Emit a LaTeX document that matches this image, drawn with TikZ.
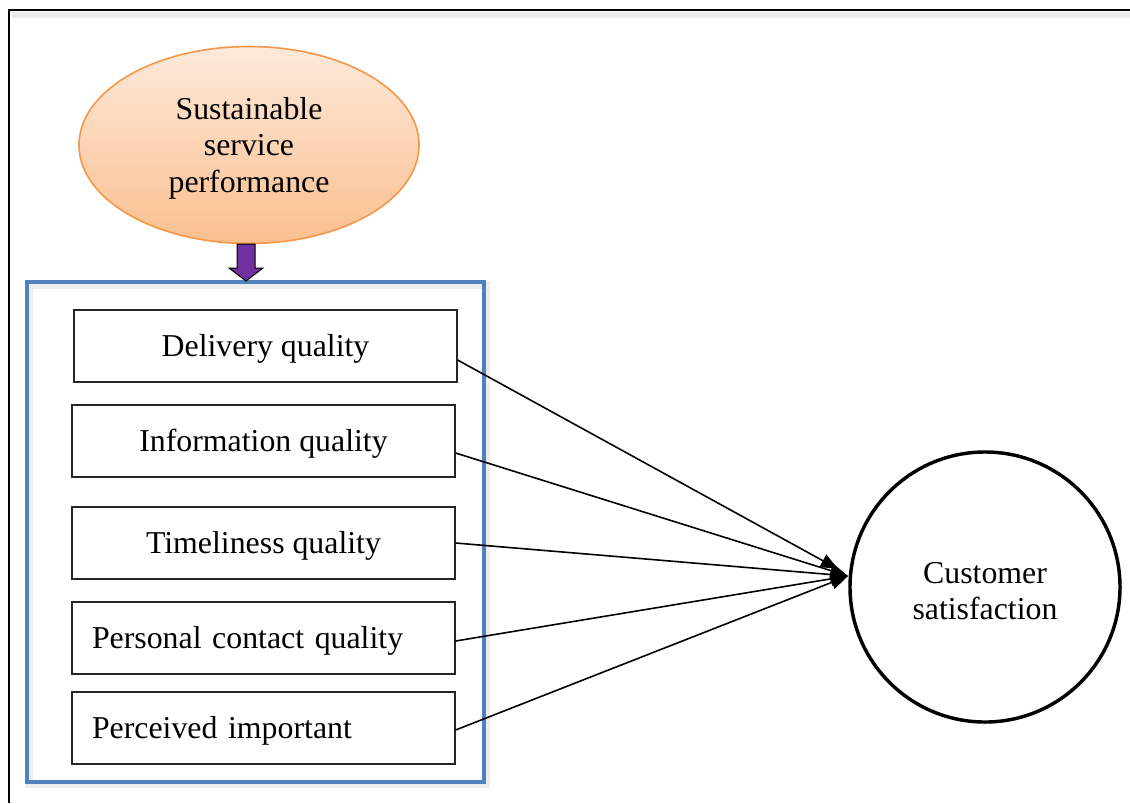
\documentclass[tikz,border=0pt]{standalone}
\usepackage{fontspec}
\setmainfont{Liberation Serif}
\usetikzlibrary{arrows.meta,shapes.geometric,calc}
\newdimen\pxl
\pxl=0.754pt
\definecolor{peachtop}{HTML}{FDE9DA}
\definecolor{peachbot}{HTML}{FABF8F}
\definecolor{peachline}{HTML}{F79646}
\definecolor{frameblue}{HTML}{4F81BD}
\definecolor{arrowpurple}{HTML}{7030A0}
\tikzset{
  lbl/.style={font=\fontsize{24}{27.5}\selectfont},
  qbox/.style={lbl, draw=black!85, line width=0.85pt, minimum width=288.8pt,
    minimum height=54.3pt, inner sep=0pt, text height=18pt, text depth=1.5pt},
  qboxleft/.style={qbox, text width=258.6pt, align=left},
  link/.style={line width=1.2pt, -{Triangle[length=13pt,width=10.5pt]}},
}
\begin{document}
\begin{tikzpicture}[x=\pxl,y=-\pxl]
\useasboundingbox (0,0) rectangle (1130,803);
\fill[white] (0,0) rectangle (1130,803);

% outer page frame
\draw[black!8, line width=4.5pt] (12,15) -- (1130,15);
\draw[line width=1.5pt] (9,803) -- (9,10) -- (1130,10);

% source construct
\node[ellipse, draw=peachline, line width=1.2pt, top color=peachtop,
  bottom color=peachbot, minimum width=256.4pt, minimum height=148.5pt,
  inner sep=0pt] (ssp) at (249,145) {};
\node[lbl, align=center, inner sep=0pt] (ssptext) at (249,148)
  {Sustainable\\service\\performance};

% grouping frame with soft glow
\draw[black, opacity=0.07, line width=6pt] (29,285) rectangle (486,784);
\draw[frameblue, line width=2.4pt] (27,282) rectangle (484,782);
\coordinate (grp) at (246,281);

% block arrow into the group
\draw[fill=arrowpurple, line width=0.75pt]
  (237,244) -- (255,244) -- (255,268) -- (263,268) -- (grp)
  -- (229,268) -- (237,268) -- cycle;

% dimensions
\node[qbox] (dq) at (265.5,346) {Delivery quality};
\node[qbox] (iq) at (263.5,441) {Information quality};
\node[qbox] (tq) at (263.5,543) {Timeliness quality};
\node[qboxleft] (pc) at (263.5,638) {Personal contact quality};
\node[qboxleft] (pi) at (263.5,728) {Perceived important};

% outcome
\node[circle, draw, line width=2.6pt, minimum size=203.6pt,
  inner sep=0pt] (cs) at (985,587) {};
\node[lbl, align=center, inner sep=0pt] (cstext) at (985,591)
  {Customer\\satisfaction};

\coordinate (t1) at (838,569);
\coordinate (t2) at (848,576);

\draw[link] ($(dq.east)+(0,14)$) -- (t1);
\draw[link] ($(iq.east)+(0,12)$) -- (t2);
\draw[link] (tq.east) -- (t2);
\draw[link] ($(pc.east)+(0,3)$) -- (t2);
\draw[link] ($(pi.east)+(0,2)$) -- (t2);
\end{tikzpicture}
\end{document}
